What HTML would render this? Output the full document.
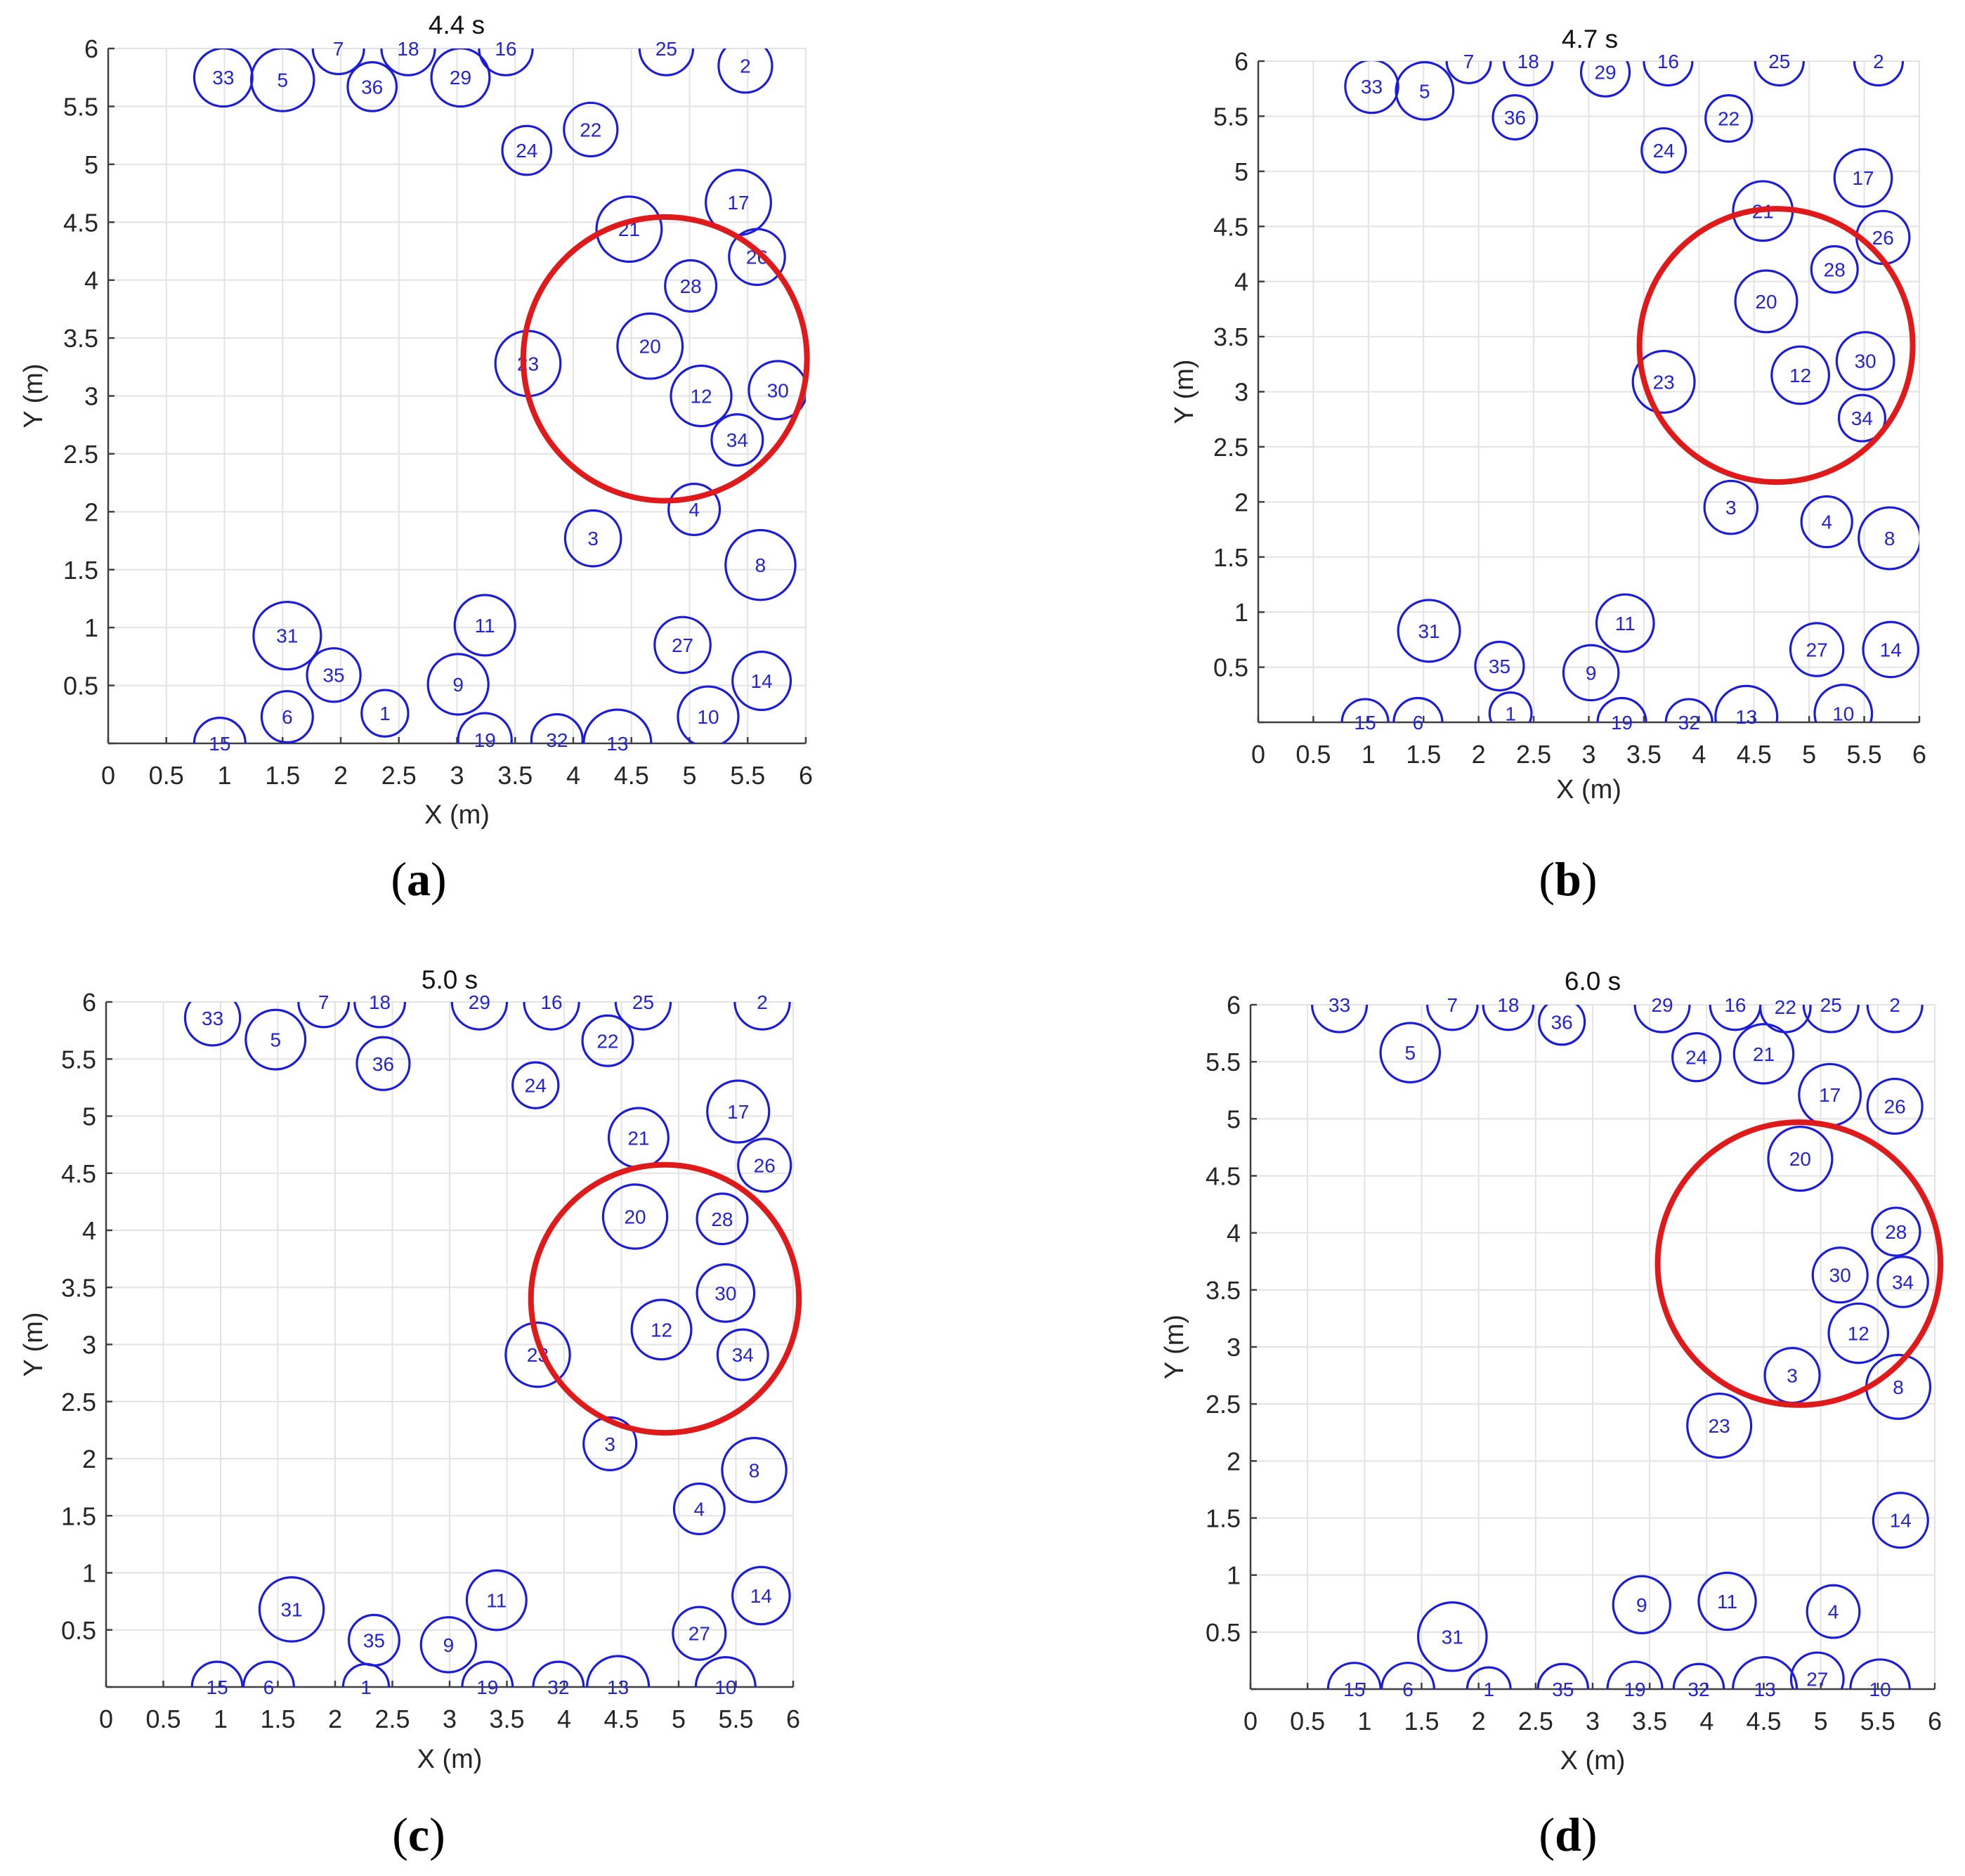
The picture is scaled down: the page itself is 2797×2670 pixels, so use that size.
<!DOCTYPE html>
<html><head><meta charset="utf-8">
<style>
html,body{margin:0;padding:0;background:#fff;}
svg{display:block;}
text{font-family:"Liberation Sans",Arial,sans-serif;}
</style></head>
<body>
<svg id="fig" width="2797" height="2670" viewBox="0 0 2797 2670" xmlns="http://www.w3.org/2000/svg"></svg>
<script>
// ---- data (meters) ----
const tickVals=[0,0.5,1,1.5,2,2.5,3,3.5,4,4.5,5,5.5,6];
const tickLabels=["0","0.5","1","1.5","2","2.5","3","3.5","4","4.5","5","5.5","6"];
const titles=["4.4 s","4.7 s","5.0 s","6.0 s"];
const subLabels=["(a)","(b)","(c)","(d)"];

const aIds=[33,5,7,36,18,29,16,25,2,22,24,17,21,26,28,20,23,12,30,34,4,3,8,31,11,27,35,9,14,6,1,10,15,19,32,13];
const aX=[0.99,1.5,1.98,2.27,2.58,3.03,3.42,4.8,5.48,4.15,3.6,5.42,4.48,5.58,5.01,4.66,3.61,5.1,5.76,5.41,5.04,4.17,5.61,1.54,3.24,4.94,1.94,3.01,5.62,1.54,2.38,5.16,0.96,3.24,3.86,4.38];
const aY=[5.75,5.73,6.0,5.67,6.0,5.75,6.0,6.0,5.85,5.3,5.12,4.67,4.44,4.2,3.95,3.43,3.28,3.0,3.05,2.62,2.02,1.77,1.54,0.93,1.02,0.85,0.59,0.51,0.54,0.23,0.26,0.23,0.0,0.03,0.03,0.0];
const aR=[0.25,0.27,0.22,0.21,0.23,0.25,0.23,0.23,0.23,0.23,0.21,0.28,0.28,0.24,0.22,0.28,0.28,0.26,0.25,0.22,0.22,0.24,0.3,0.29,0.26,0.24,0.23,0.26,0.25,0.22,0.2,0.26,0.22,0.23,0.22,0.29];
const aRed=[4.79,3.32,1.22];

const bIds=[33,5,7,18,29,16,25,2,36,22,24,17,21,26,28,20,30,12,23,34,3,4,8,31,11,27,14,35,9,15,6,1,19,32,13,10];
const bX=[1.03,1.51,1.91,2.45,3.15,3.72,4.73,5.63,2.33,4.27,3.68,5.49,4.58,5.67,5.23,4.61,5.51,4.92,3.68,5.48,4.29,5.16,5.73,1.55,3.33,5.07,5.74,2.19,3.02,0.97,1.45,2.29,3.3,3.91,4.43,5.31];
const bY=[5.77,5.73,6.0,6.0,5.9,6.0,6.0,6.0,5.49,5.48,5.19,4.94,4.64,4.4,4.11,3.82,3.28,3.15,3.09,2.76,1.95,1.82,1.67,0.83,0.9,0.66,0.66,0.51,0.45,0.0,0.0,0.08,0.0,0.0,0.05,0.08];
const bR=[0.24,0.26,0.2,0.22,0.22,0.22,0.22,0.22,0.2,0.21,0.2,0.26,0.27,0.24,0.21,0.28,0.26,0.26,0.28,0.21,0.24,0.23,0.28,0.28,0.26,0.24,0.25,0.22,0.25,0.21,0.22,0.19,0.22,0.21,0.28,0.26];
const bRed=[4.7,3.42,1.24];

const cIds=[33,5,7,18,29,16,25,2,36,22,24,17,21,26,20,28,30,12,34,23,3,8,4,31,11,14,35,9,27,15,6,1,19,32,13,10];
const cX=[0.93,1.48,1.9,2.39,3.26,3.89,4.69,5.73,2.42,4.38,3.75,5.52,4.65,5.75,4.62,5.38,5.41,4.85,5.56,3.77,4.4,5.66,5.18,1.62,3.41,5.72,2.34,2.99,5.18,0.97,1.42,2.27,3.33,3.95,4.47,5.41];
const cY=[5.86,5.67,6,6,6,6,6,6,5.46,5.66,5.27,5.04,4.81,4.57,4.12,4.1,3.45,3.13,2.91,2.91,2.13,1.9,1.56,0.68,0.76,0.8,0.41,0.37,0.47,0,0,0,0,0,0,0];
const cR=[0.24,0.26,0.22,0.22,0.24,0.24,0.24,0.24,0.23,0.22,0.2,0.27,0.26,0.23,0.28,0.22,0.25,0.26,0.22,0.28,0.23,0.28,0.22,0.28,0.26,0.25,0.22,0.24,0.23,0.22,0.22,0.2,0.22,0.22,0.27,0.26];
const cRed=[4.88,3.4,1.17];

const dIds=[33,7,18,36,29,16,22,25,2,5,24,21,17,26,20,28,30,34,12,3,8,23,14,9,11,4,31,15,6,1,35,19,32,13,27,10];
const dX=[0.78,1.77,2.26,2.73,3.61,4.25,4.69,5.09,5.65,1.4,3.91,4.5,5.08,5.65,4.82,5.66,5.17,5.72,5.33,4.75,5.68,4.11,5.7,3.43,4.18,5.11,1.77,0.91,1.38,2.09,2.74,3.37,3.93,4.51,4.97,5.52];
const dY=[6,6,6,5.85,6,6,5.98,6,6,5.58,5.54,5.57,5.21,5.11,4.65,4.01,3.63,3.57,3.12,2.75,2.65,2.31,1.48,0.74,0.77,0.68,0.46,0,0,0,0,0,0,0,0.09,0];
const dR=[0.24,0.22,0.22,0.2,0.24,0.22,0.22,0.24,0.24,0.26,0.21,0.26,0.27,0.24,0.28,0.21,0.24,0.22,0.26,0.24,0.28,0.28,0.24,0.25,0.25,0.23,0.3,0.23,0.23,0.19,0.22,0.24,0.22,0.28,0.23,0.26];
const dRed=[4.81,3.73,1.24];

// ---- layout ----
const NS="http://www.w3.org/2000/svg";
const svg=document.getElementById('fig');
const panels=[
 {key:'a',x0:154,x6:1147,y0:1058,y6:69,tx:650,ty:48,xly:1172,yl:48,sub:[596,1274],ids:aIds,xs:aX,ys:aY,rs:aR,red:aRed},
 {key:'b',x0:1791,x6:2732,y0:1028,y6:87,tx:2263,ty:68,xly:1136,yl:1686,sub:[2232,1274],ids:bIds,xs:bX,ys:bY,rs:bR,red:bRed},
 {key:'c',x0:151,x6:1129,y0:2401,y6:1426,tx:640,ty:1407,xly:2516,yl:48,sub:[596,2634],ids:cIds,xs:cX,ys:cY,rs:cR,red:cRed},
 {key:'d',x0:1780,x6:2754,y0:2404,y6:1430,tx:2267,ty:1409,xly:2518,yl:1672,sub:[2232,2634],ids:dIds,xs:dX,ys:dY,rs:dR,red:dRed}
];
function mk(tag,attrs,parent){const e=document.createElementNS(NS,tag);for(const k in attrs)e.setAttribute(k,attrs[k]);(parent||svg).appendChild(e);return e;}

const defs=mk('defs',{});
panels.forEach((p,pi)=>{
  const sx=v=>p.x0+v*(p.x6-p.x0)/6;
  const sy=v=>p.y0-v*(p.y0-p.y6)/6;
  const sr=v=>v*(p.x6-p.x0)/6;
  const g=mk('g',{});
  
  
  const cp=mk('clipPath',{id:'clip'+p.key},defs);
  mk('rect',{x:p.x0,y:p.y6,width:p.x6-p.x0,height:p.y0-p.y6},cp);
  const grid=mk('g',{stroke:'#e3e3e3','stroke-width':2},g);
  
  
  tickVals.forEach(v=>{
    if(v>0){mk('line',{x1:sx(v),x2:sx(v),y1:p.y6,y2:p.y0},grid);}
    if(v>0){mk('line',{x1:p.x0,x2:p.x6,y1:sy(v),y2:sy(v)},grid);}
  });
  const ax=mk('g',{stroke:'#404040','stroke-width':2.5,fill:'none'},g);
  
  
  mk('line',{x1:p.x0,x2:p.x6,y1:p.y0,y2:p.y0},ax);
  mk('line',{x1:p.x0,x2:p.x0,y1:p.y6,y2:p.y0},ax);
  tickVals.forEach(v=>{
    mk('line',{x1:sx(v),x2:sx(v),y1:p.y0,y2:p.y0-9},ax);
    mk('line',{x1:p.x0,x2:p.x0+9,y1:sy(v),y2:sy(v)},ax);
  });
  tickVals.forEach((v,i)=>{
    const t=mk('text',{x:sx(v),y:p.y0+58,'text-anchor':'middle','font-size':36,fill:'#262626'},g);
    t.textContent=tickLabels[i];
    
    
    if(v>0){
      const t2=mk('text',{x:p.x0-14,y:sy(v)+13,'text-anchor':'end','font-size':36,fill:'#262626'},g);
      t2.textContent=tickLabels[i];
      
      
    }
  });
  const xl=mk('text',{x:(p.x0+p.x6)/2,y:p.xly,'text-anchor':'middle','font-size':38,fill:'#262626'},g);
  xl.textContent='X (m)';
  
  
  const yl=mk('text',{x:0,y:0,'text-anchor':'middle','font-size':38,fill:'#262626',transform:`translate(${p.yl+12},${(p.y0+p.y6)/2}) rotate(-90)`},g);
  yl.textContent='Y (m)';
  
  
  const tt=mk('text',{x:p.tx,y:p.ty,'text-anchor':'middle','font-size':37,fill:'#111'},g);
  tt.textContent=titles[pi];
  
  
  const cg=mk('g',{'clip-path':`url(#clip${p.key})`,fill:'none',stroke:'#1c1cdc','stroke-width':3.2},g);
  
  
  p.ids.forEach((id,i)=>{
    const c=mk('circle',{cx:sx(p.xs[i]),cy:sy(p.ys[i]),r:sr(p.rs[i])},cg);
    
    
  });
  p.ids.forEach((id,i)=>{
    const t=mk('text',{x:sx(p.xs[i]),y:sy(p.ys[i])+10,'text-anchor':'middle','font-size':28,fill:'#2323d8'},g);
    t.textContent=String(id);
    
    
  });
  const rc=mk('circle',{cx:sx(p.red[0]),cy:sy(p.red[1]),r:sr(p.red[2]),fill:'none',stroke:'#e0191b','stroke-width':8},g);
  
  
  const sl=mk('text',{x:p.sub[0],y:p.sub[1],'text-anchor':'middle','font-size':68,fill:'#000',style:'font-family:"Liberation Serif",serif'},g);
  sl.innerHTML='(<tspan font-weight="bold">'+subLabels[pi].slice(1,2)+'</tspan>)';
  
  
});
</script>
</body></html>
